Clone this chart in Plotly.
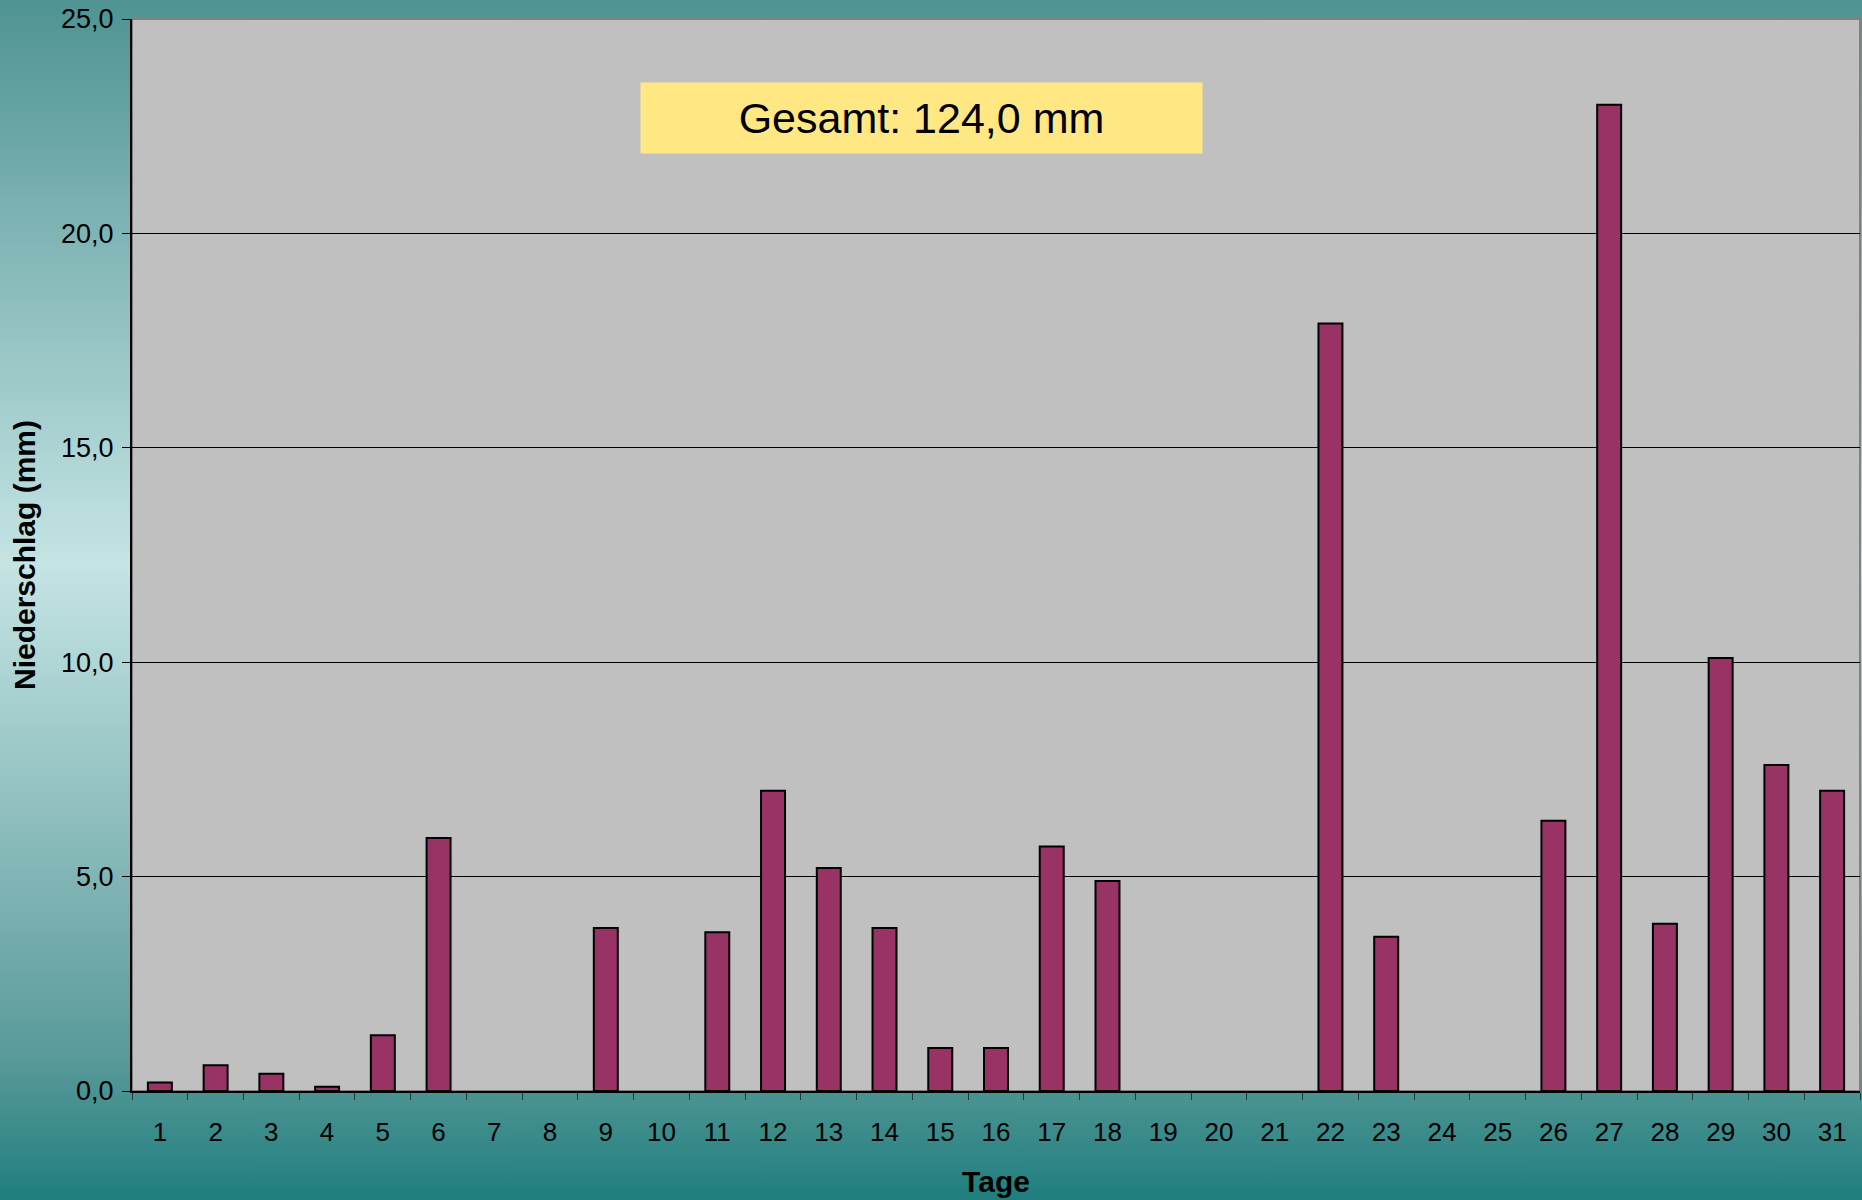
import base64
import plotly.graph_objects as go

# ---- data ----
days = [str(d) for d in range(1, 32)]
precip_mm = [0.2, 0.6, 0.4, 0.1, 1.3, 5.9, 0.0, 0.0, 3.8, 0.0,
             3.7, 7.0, 5.2, 3.8, 1.0, 1.0, 5.7, 4.9, 0.0, 0.0,
             0.0, 17.9, 3.6, 0.0, 0.0, 6.3, 23.0, 3.9, 10.1, 7.6, 7.0]
y_ticks = [0, 5, 10, 15, 20, 25]
total_label = "Gesamt: 124,0 mm"

W, H = 1862, 1200
ML, MR, MT, MB = 132, 2, 19, 109
PW, PH = W - ML - MR, H - MT - MB

FONT = "Arial, 'Liberation Sans', sans-serif"

svg = f'''<svg xmlns="http://www.w3.org/2000/svg" width="{W}" height="{H}" preserveAspectRatio="none">
<defs><linearGradient id="g" x1="0" y1="0" x2="0" y2="1">
<stop offset="0" stop-color="#4f9393"/>
<stop offset="0.47" stop-color="#c5e4e4"/>
<stop offset="0.88" stop-color="#5a9a9a"/>
<stop offset="1" stop-color="#207e7e"/>
</linearGradient></defs>
<rect width="{W}" height="{H}" fill="url(#g)"/></svg>'''
svg_uri = "data:image/svg+xml;base64," + base64.b64encode(svg.encode()).decode()

fig = go.Figure()
fig.add_trace(go.Bar(
    x=days, y=precip_mm,
    marker=dict(color="#993366",
                line=dict(color="#000000", width=[2 if v > 0 else 0 for v in precip_mm])),
    hoverinfo="x+y",
))

fig.update_layout(
    width=W, height=H,
    margin=dict(l=ML, r=MR, t=MT, b=MB, autoexpand=False),
    paper_bgcolor="#4f9393",
    plot_bgcolor="rgba(0,0,0,0)",
    bargap=0.57,
    showlegend=False,
    separators=",.",
    font=dict(family=FONT, color="#000000"),
    images=[dict(
        source=svg_uri, xref="paper", yref="paper",
        x=-ML / PW, y=1 + MT / PH, sizex=W / PW, sizey=H / PH,
        xanchor="left", yanchor="top", sizing="stretch", layer="below",
    )],
    shapes=[dict(
        type="rect", xref="paper", yref="paper", x0=0, x1=1, y0=0, y1=1,
        line=dict(color="#808080", width=2), fillcolor="#c0c0c0", layer="below",
    )],
    annotations=[dict(
        text=total_label, xref="paper", yref="paper",
        x=(921.5 - ML) / PW, y=(MT + PH - 118) / PH,
        xanchor="center", yanchor="middle", showarrow=False,
        bgcolor="#ffe784", width=561, height=70, borderpad=0,
        font=dict(size=43, family=FONT, color="#000000"),
    )],
)

fig.update_yaxes(
    range=[0, 25], tickvals=y_ticks, tickformat=".1f",
    showgrid=True, gridcolor="#000000", gridwidth=1, layer="below traces",
    zeroline=False, showline=True, linecolor="#000000", linewidth=2,
    ticks="outside", ticklen=8, tickcolor="#000000", tickwidth=1,
    ticklabelstandoff=3,
    tickfont=dict(size=27, family=FONT, color="#000000"),
    title=dict(text="<b>Niederschlag (mm)</b>", font=dict(size=30, family=FONT, color="#000000"), standoff=17),
    fixedrange=True,
)
fig.update_xaxes(
    type="category", showgrid=False, zeroline=False,
    showline=True, linecolor="#000000", linewidth=2,
    ticks="outside", tickson="boundaries", ticklen=7, tickcolor="#1a3a3a", tickwidth=1,
    ticklabelstandoff=17,
    tickfont=dict(size=26, family=FONT, color="#000000"),
    title=dict(text="<b>Tage</b>", font=dict(size=30, family=FONT, color="#000000"), standoff=25),
    fixedrange=True,
)

fig.write_html("out.html", config={"displayModeBar": False},
               post_script="document.body.style.margin='0';document.body.style.overflow='hidden';")
